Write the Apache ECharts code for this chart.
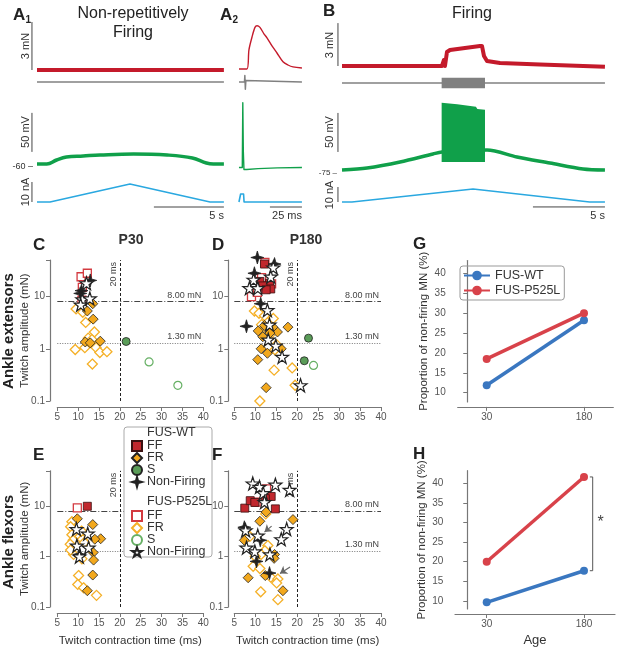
<!DOCTYPE html>
<html><head><meta charset="utf-8">
<script src="https://cdn.jsdelivr.net/npm/echarts@6.0.0/dist/echarts.min.js"></script>
<style>html,body{margin:0;padding:0;background:#fff;}#chart{width:617px;height:648px;}</style>
</head><body><div id="chart"></div>
<script>
// ================= DATA =================
// Panel A1 traces (time in s; force mN; EMG a.u.; Vm mV; injected current nA)
const a1Force = [[0,0],[13.35,0]];
const a1Emg = [[0,0],[13.35,0]];
const a1Vm = [[0,-56.5],[0.7,-56.5],[1.4,-51.4],[2.1,-47.6],[3.3,-46.3],[4.5,-45],[6.9,-43.7],[9.3,-45],[11.1,-48.8],[12.1,-55.3],[12.6,-56.5],[13.35,-56.5]];
const a1Inj = [[0,0],[0.93,0],[6.64,9],[12.36,0],[13.35,0]];
// Panel A2 traces (time in ms)
const a2Force = [[0,0],[6.2,0],[7.8,1.2],[10.2,2.0],[12.5,2.6],[14.1,2.7],[16.4,2.6],[19.5,2.2],[21.9,1.95],[25.8,1.45],[29.7,1.0],[34.4,0.45],[38.3,0.25],[42.2,0.13],[49.2,0.06]];
const a2Emg = [[0,0],[4.3,0],[4.6,0.8],[5.0,-0.9],[5.4,0.2],[5.8,0],[49.2,0]];
const a2Vm = [[0,-61],[2.6,-61],[3.0,22],[3.4,-40],[3.9,-63.5],[6,-63.5],[15,-62.5],[30,-61.5],[49.2,-61]];
const a2Inj = [[0,0],[0.9,0],[1.3,4],[3.6,4],[4.0,0],[49.2,0]];
// Panel B traces (time in s)
const bForce = [[0,0],[6.94,0],[7.08,0.42],[7.15,0],[7.29,0.98],[7.5,1.12],[8.54,1.26],[9.58,1.4],[9.72,1.4],[9.86,0.7],[10.07,0.35],[10.97,0.21],[13.75,0.1],[18.26,-0.05]];
const bEmg = [[0,0],[18.26,0]];
const bEmgBurst = [[6.92,-0.65],[6.92,0.65],[9.93,0.65],[9.93,-0.65]];
const bVm = [[0,-71.2],[1.74,-68.6],[4.03,-60.9],[6.32,-50.6],[6.94,-48.1],[10.07,-45.5],[12.15,-54.5],[14.44,-62.2],[16.74,-69.9],[18.26,-71.2]];
const bVmBurst = [[6.92,-61],[6.92,15],[8.0,13],[9.3,10],[9.4,7],[9.93,6],[9.93,-61]];
const bInj = [[0,0],[0.69,0],[9.1,8.7],[17.2,0],[18.26,0]];
// Scale bars (data units)
const a1ForceBar = [[-0.36,0],[-0.36,3]];
const a1VmBar = [[-0.36,-41],[-0.36,9]];
const a1InjBar = [[-0.36,0],[-0.36,10]];
const a1TimeBar = [[8.35,-2.5],[13.35,-2.5]];
const a2TimeBar = [[24.2,-2.5],[49.2,-2.5]];
const bForceBar = [[-0.28,0],[-0.28,3]];
const bVmBar = [[-0.28,-48],[-0.28,2]];
const bInjBar = [[-0.28,0],[-0.28,10]];
const bTimeBar = [[13.26,-3.3],[18.26,-3.3]];

// Scatter panels: [twitch contraction time (ms), twitch amplitude (mN)]
const C_WT_FF = [];
const C_WT_FR = [[13.5,7.3],[12.2,5.3],[13.6,3.7],[11.7,1.35],[15.3,1.4],[12.9,1.3]];
const C_WT_S = [[21.5,1.38]];
const C_WT_NF = [[12.9,20.4],[10.8,13],[10.5,11.5]];
const C_MUT_FF = [[10.7,24],[12.2,28],[11.0,15],[10.9,8.5]];
const C_MUT_FR = [[9.5,5.8],[11.1,5.0],[11.8,3.2],[13.9,2.1],[12.4,1.6],[13.3,1.5],[9.3,0.97],[11.6,1.05],[14.3,1.05],[15.2,0.85],[16.9,0.88],[13.4,0.51]];
const C_MUT_S = [[27.0,0.56],[33.9,0.2]];
const C_MUT_NF = [[12.0,18],[11.0,8.8],[12.8,9.2],[10.6,7.0]];

const D_WT_FF = [[12.2,42],[11.1,19.5],[13.4,18],[13.7,14],[11.8,16],[12.6,13.5]];
const D_WT_FR = [[17.8,2.6],[10.7,2.2],[11.8,1.7],[15.3,2.1],[14.2,2.6],[12.2,2.8],[11.4,1.0],[12.9,0.82],[16.2,1.0],[10.6,0.62],[12.6,0.18],[13.5,2.0]];
const D_WT_S = [[22.7,1.6],[21.7,0.59]];
const D_WT_NF = [[10.5,56],[14.6,42],[9.8,28],[11.3,7.3],[7.9,2.7]];
const D_MUT_FF = [[12.3,45],[9.1,10],[13.9,17.5],[10.5,12],[11.5,23]];
const D_MUT_FR = [[9.8,5.3],[10.9,4.8],[12.2,4.3],[14.3,3.8],[11.5,2.9],[13.9,2.0],[15.1,1.2],[13.1,1.1],[14.7,0.96],[14.5,0.39],[18.8,0.43],[19.5,0.2],[11.1,0.1],[12.5,2.5]];
const D_MUT_S = [[23.9,0.48]];
const D_MUT_NF = [[14.3,36],[13.7,24],[9.6,21],[8.6,14.5],[10.6,14.5],[12.9,5.5],[13.4,2.9],[13.1,1.5],[14.9,1.15],[16.4,0.7],[20.8,0.2]];

const E_WT_FF = [[12.2,9.9]];
const E_WT_FR = [[9.8,5.6],[13.5,4.3],[15.4,2.25],[14.0,2.2],[13.6,1.2],[13.7,0.85],[13.5,0.43],[12.2,0.21]];
const E_WT_S = [];
const E_WT_NF = [[10.3,1.1]];
const E_MUT_FF = [[9.8,9.2]];
const E_MUT_FR = [[8.5,4.9],[8.2,3.9],[8.5,2.7],[10.4,2.5],[8.8,2.1],[11.0,2.2],[8.1,1.75],[8.9,1.1],[8.2,1.35],[10.9,0.9],[10.8,3.2],[11.5,1.9],[10.1,0.42],[9.9,0.28],[11.3,0.24],[14.4,0.17]];
const E_MUT_S = [];
const E_MUT_NF = [[9.6,3.5],[12.3,2.85],[9.7,1.65],[12.5,1.5],[10.3,1.0]];

const F_WT_FF = [[7.5,9.1],[8.8,12.8],[9.9,11.8],[13.8,15.5],[14.8,8.8],[12.4,14]];
const F_WT_FR = [[11.1,5.0],[19.0,5.4],[12.6,7.6],[7.4,2.1],[14.6,1.1],[14.5,0.92],[8.3,0.38],[12.4,0.42],[16.6,0.21]];
const F_WT_S = [];
const F_WT_NF = [[7.4,3.8],[11.2,2.1],[13.4,0.47],[10.3,0.8]];
const F_MUT_FF = [[12.7,22],[10.2,12]];
const F_MUT_FR = [[12.5,7.0],[8.7,2.5],[13.0,1.65],[12.3,1.3],[11.4,1.1],[9.5,0.64],[11.1,0.58],[13.7,0.39],[15.4,0.36],[15.1,0.3],[11.3,0.2],[15.4,0.14],[10.0,1.0]];
const F_MUT_S = [];
const F_MUT_NF = [[9.4,28],[11.0,24],[14.8,26.5],[18.2,21],[11.9,18],[12.2,12],[17.5,3.5],[16.2,2.2],[7.7,3.3],[10.6,2.6],[7.9,1.5],[9.9,1.26],[13.5,1.1]];
const F_ARROWS = [[[13.9,4.0],[12.2,3.05]],[[18.3,0.62],[15.9,0.46]]];

const FF_THRESHOLD = 8.0;
const S_THRESHOLD = 1.3;
const TIME_THRESHOLD = 20;
const AMP_TICKS = [0.1, 1, 10];
const TIME_TICKS = [5, 40];

// Panels G, H: proportion of non-firing MN (%)
const ages = [30, 180];
const G_WT = [11.9, 28.2];
const G_MUT = [18.5, 30.0];
const H_WT = [9.6, 17.7];
const H_MUT = [20.0, 41.7];
const PCT_TICKS = [10, 15, 20, 25, 30, 35, 40];

// ================= BUILD =================
const FONT = 'Liberation Sans, Arial, Helvetica, sans-serif';
const RED = '#c41a2b', GREEN = '#10a04a', BLUE = '#2aa8e0', GRAY = '#808080', BAR = '#444';
const grids = [], xAxis = [], yAxis = [], series = [];
function addGrid(rect, xa, ya) {
  const i = grids.length;
  grids.push(Object.assign({containLabel:false}, rect));
  xAxis.push(Object.assign({gridIndex:i}, xa));
  yAxis.push(Object.assign({gridIndex:i}, ya));
  return i;
}
const hid = (min, max) => ({type:'value', min, max, show:false, splitLine:{show:false}});
function line(gi, data, color, width, smooth) {
  series.push({type:'line', xAxisIndex:gi, yAxisIndex:gi, data, symbol:'none', smooth: smooth || false,
    lineStyle:{color, width, join:'round'}, silent:true, clip:false, z:3});
}
function poly(gi, pts, color) {
  series.push({type:'custom', xAxisIndex:gi, yAxisIndex:gi, data:[[0,0]], silent:true, clip:false, z:4,
    renderItem: (p, api) => ({type:'polygon', shape:{points: pts.map(q => api.coord(q))}, style:{fill:color}})});
}

// A1
const A1 = {left:9, width:217};
const gA1f = addGrid({...A1, top:22, height:56}, hid(-2,13.5), hid(-0.5,3));
const gA1e = addGrid({...A1, top:74, height:16}, hid(-2,13.5), hid(-1,1));
const gA1v = addGrid({...A1, top:96.5, height:78}, hid(-2,13.5), hid(-70,30));
const gA1i = addGrid({...A1, top:180, height:30}, hid(-2,13.5), hid(-4,11));
line(gA1f, a1Force, RED, 4);
line(gA1e, a1Emg, GRAY, 1.5);
line(gA1v, a1Vm, GREEN, 3.5, 0.4);
line(gA1i, a1Inj, BLUE, 1.6);
line(gA1f, a1ForceBar, BAR, 1);
line(gA1v, a1VmBar, BAR, 1);
line(gA1i, a1InjBar, BAR, 1);
line(gA1i, a1TimeBar, BAR, 1);
// A2
const A2 = {left:236.4, width:66.56};
const gA2f = addGrid({...A2, top:21, height:56}, hid(-2,50), hid(-0.5,3));
const gA2e = addGrid({...A2, top:74, height:16}, hid(-2,50), hid(-1,1));
const gA2v = addGrid({...A2, top:96.5, height:78}, hid(-2,50), hid(-70,30));
const gA2i = addGrid({...A2, top:180, height:30}, hid(-2,50), hid(-4,11));
line(gA2f, a2Force, RED, 1.4, 0.3);
line(gA2e, a2Emg, GRAY, 1.5);
line(gA2v, a2Vm, GREEN, 1.4);
line(gA2i, a2Inj, BLUE, 1.6);
line(gA2i, a2TimeBar, BAR, 1);
// B
const B = {left:327.6, width:280.8};
const gBf = addGrid({...B, top:23.1, height:50.05}, hid(-1,18.5), hid(-0.5,3));
const gBe = addGrid({...B, top:75, height:16}, hid(-1,18.5), hid(-1,1));
const gBv = addGrid({...B, top:95, height:85.8}, hid(-1,18.5), hid(-85,25));
const gBi = addGrid({...B, top:185.5, height:24}, hid(-1,18.5), hid(-5,11));
line(gBf, bForce, RED, 4);
line(gBe, bEmg, GRAY, 1.5);
poly(gBe, bEmgBurst, GRAY);
line(gBv, bVm, GREEN, 3.5, 0.3);
poly(gBv, bVmBurst, GREEN);
line(gBi, bInj, BLUE, 1.6);
line(gBf, bForceBar, BAR, 1);
line(gBv, bVmBar, BAR, 1);
line(gBi, bInjBar, BAR, 1);
line(gBi, bTimeBar, BAR, 1);

// Scatter panels
const STAR5 = 'path://M50,2 L61.8,37.6 L99,37.6 L69,59.6 L80.4,95 L50,73 L19.6,95 L31,59.6 L1,37.6 L38.2,37.6 Z';
const STAR4 = 'path://M50,0 L61,39 L100,50 L61,61 L50,100 L39,61 L0,50 L39,39 Z';
const STY = {
  MUT_FR:{name:'MUT|FR', symbol:'diamond', size:10, fill:'#fff', border:'#f5b027', bw:1.3},
  WT_FR:{name:'WT|FR', symbol:'diamond', size:10, fill:'#f2a81d', border:'#222', bw:0.8},
  MUT_FF:{name:'MUT|FF', symbol:'rect', size:8, fill:'#fff', border:'#d33a40', bw:1.3},
  WT_FF:{name:'WT|FF', symbol:'rect', size:8, fill:'#c1272d', border:'#3a1010', bw:0.8},
  MUT_S:{name:'MUT|S', symbol:'circle', size:8, fill:'#fff', border:'#66b064', bw:1.2},
  WT_S:{name:'WT|S', symbol:'circle', size:8, fill:'#5a9c58', border:'#222', bw:0.8},
  WT_NF:{name:'WT|Non-Firing', symbol:STAR4, size:13, fill:'#222', border:'#222', bw:0.8},
  MUT_NF:{name:'MUT|Non-Firing', symbol:STAR5, size:13, fill:'#fff', border:'#222', bw:1.2}
};
const ORDER = ['MUT_FR','WT_FR','MUT_FF','WT_FF','MUT_S','WT_S','WT_NF','MUT_NF'];
const panels = [
  {rect:{left:57.3, top:260.1, width:146, height:140.9}, yOff:7.3, yName:'Twitch amplitude (mN)', xName:'',
   d:{WT_FF:C_WT_FF, WT_FR:C_WT_FR, WT_S:C_WT_S, WT_NF:C_WT_NF, MUT_FF:C_MUT_FF, MUT_FR:C_MUT_FR, MUT_S:C_MUT_S, MUT_NF:C_MUT_NF}},
  {rect:{left:234.3, top:260.1, width:146.7, height:140.9}, yOff:6, yName:'', xName:'',
   d:{WT_FF:D_WT_FF, WT_FR:D_WT_FR, WT_S:D_WT_S, WT_NF:D_WT_NF, MUT_FF:D_MUT_FF, MUT_FR:D_MUT_FR, MUT_S:D_MUT_S, MUT_NF:D_MUT_NF}},
  {rect:{left:57.3, top:470.8, width:146, height:140.9}, yOff:7.3, yName:'Twitch amplitude (mN)', xName:'Twitch contraction time (ms)',
   d:{WT_FF:E_WT_FF, WT_FR:E_WT_FR, WT_S:E_WT_S, WT_NF:E_WT_NF, MUT_FF:E_MUT_FF, MUT_FR:E_MUT_FR, MUT_S:E_MUT_S, MUT_NF:E_MUT_NF}},
  {rect:{left:234.3, top:470.8, width:146.7, height:140.9}, yOff:6, yName:'', xName:'Twitch contraction time (ms)',
   d:{WT_FF:F_WT_FF, WT_FR:F_WT_FR, WT_S:F_WT_S, WT_NF:F_WT_NF, MUT_FF:F_MUT_FF, MUT_FR:F_MUT_FR, MUT_S:F_MUT_S, MUT_NF:F_MUT_NF}, arrows:F_ARROWS}
];
const axLine = {show:true, lineStyle:{color:'#777', width:1.2}};
const axTick = {show:true, length:4, lineStyle:{color:'#777'}};
const axLabel = {fontSize:10, color:'#555', fontFamily:FONT};
panels.forEach(P => {
  const gi = addGrid(P.rect,
    {type:'value', min:TIME_TICKS[0], max:TIME_TICKS[1], interval:5, offset:6, axisLine:axLine, axisTick:axTick,
     axisLabel:Object.assign({margin:5}, axLabel), splitLine:{show:false},
     name:P.xName, nameLocation:'middle', nameGap:22, nameTextStyle:{fontSize:11.5, color:'#333', fontFamily:FONT}},
    {type:'log', logBase:10, min:AMP_TICKS[0], max:50, offset:P.yOff, axisLine:axLine, axisTick:axTick,
     axisLabel:Object.assign({margin:5, formatter: v => (AMP_TICKS.some(t => Math.abs(t - v) < 1e-6) ? String(v) : '')}, axLabel),
     splitLine:{show:false}, minorTick:{show:false},
     name:P.yName, nameLocation:'middle', nameGap:19, nameMoveOverlap:false, nameTextStyle:{fontSize:11.5, color:'#333', fontFamily:FONT}});
  ORDER.forEach(k => {
    const s = STY[k];
    const ser = {type:'scatter', name:s.name, xAxisIndex:gi, yAxisIndex:gi, data:P.d[k], symbol:s.symbol, symbolSize:s.size,
      itemStyle:{color:s.fill, borderColor:s.border, borderWidth:s.bw, opacity:1}, clip:false, silent:true, z:5};
    if (k === 'WT_FR') {
      ser.markLine = {silent:true, symbol:['none','none'], animation:false,
        label:{fontSize:9, color:'#444', fontFamily:FONT, distance:2},
        data:[
          {yAxis:FF_THRESHOLD, lineStyle:{type:[6,2,1,2], color:'#444', width:1}, label:{position:'insideEndTop', formatter:FF_THRESHOLD.toFixed(2)+' mN'}},
          {yAxis:S_THRESHOLD, lineStyle:{type:[1,1.5], color:'#777', width:1}, label:{position:'insideEndTop', formatter:S_THRESHOLD.toFixed(2)+' mN'}},
          [{coord:[TIME_THRESHOLD, AMP_TICKS[0]], lineStyle:{type:[3,2], color:'#222', width:1}, label:{position:'insideEndTop', formatter:TIME_THRESHOLD+' ms'}},
           {coord:[TIME_THRESHOLD, 50]}]
        ]};
    }
    if (k === 'WT_NF' && P.arrows) {
      ser.markLine = {silent:true, symbol:['none','arrow'], symbolSize:7, animation:false, label:{show:false},
        lineStyle:{color:'#666', width:1.2, type:'solid'},
        itemStyle:{color:'#999'},
        data:P.arrows.map(a => [{coord:a[0]}, {coord:a[1]}])};
    }
    series.push(ser);
  });
});

// G and H
const gG = addGrid({left:457.7, top:260.6, width:155.6, height:141.3},
  {type:'value', min:-14.7, max:225.2, offset:5, axisLine:axLine, axisTick:Object.assign({customValues:ages}, axTick),
   axisLabel:Object.assign({customValues:ages, margin:5}, axLabel), splitLine:{show:false}},
  {type:'value', min:7.7, max:43.2, axisLine:axLine, axisTick:Object.assign({customValues:PCT_TICKS}, axTick),
   axisLabel:Object.assign({customValues:PCT_TICKS, margin:12}, axLabel), splitLine:{show:false},
   name:'Proportion of non-firing MN (%)', nameLocation:'middle', nameGap:28, nameTextStyle:{fontSize:11.5, color:'#333', fontFamily:FONT}});
const gH = addGrid({left:455, top:470.7, width:160, height:141},
  {type:'value', min:-18.9, max:227.8, offset:5, axisLine:axLine, axisTick:Object.assign({customValues:ages}, axTick),
   axisLabel:Object.assign({customValues:ages, margin:5}, axLabel), splitLine:{show:false},
   name:'Age', nameLocation:'middle', nameGap:20, nameTextStyle:{fontSize:13, color:'#333', fontFamily:FONT}},
  {type:'value', min:7.9, max:43.3, offset:6.7, axisLine:axLine, axisTick:Object.assign({customValues:PCT_TICKS}, axTick),
   axisLabel:Object.assign({customValues:PCT_TICKS, margin:5}, axLabel), splitLine:{show:false},
   name:'Proportion of non-firing MN (%)', nameLocation:'middle', nameGap:20, nameTextStyle:{fontSize:11.5, color:'#333', fontFamily:FONT}});
const LBLUE = '#3a77c0', LRED = '#d8424a';
function pctLine(gi, name, vals, color) {
  series.push({type:'line', name, xAxisIndex:gi, yAxisIndex:gi, data:ages.map((a, i) => [a, vals[i]]),
    symbol:'circle', symbolSize:8, lineStyle:{color, width:3.5}, itemStyle:{color}, silent:true, z:5});
}
pctLine(gG, 'FUS-WT', G_WT, LBLUE);
pctLine(gG, 'FUS-P525L', G_MUT, LRED);
pctLine(gH, 'FUS-WT', H_WT, LBLUE);
pctLine(gH, 'FUS-P525L', H_MUT, LRED);
// significance bracket between the 180-day values of panel H
const bx0 = ages[1] + 9, bx1 = ages[1] + 13.4;
series.push({type:'line', xAxisIndex:gH, yAxisIndex:gH, symbol:'none', silent:true, z:4,
  data:[[bx0, H_MUT[1]],[bx1, H_MUT[1]],[bx1, H_WT[1]],[bx0, H_WT[1]]], lineStyle:{color:'#555', width:1}});

// ================= TEXT =================
function T(x, y, text, o) {
  o = o || {};
  return {type:'text', x, y, rotation:o.rot || 0, z:120,
    style:{text, fontSize:o.size || 11, fontWeight:o.bold ? 'bold' : 'normal', fontFamily:FONT, fill:o.color || '#222',
      align:o.align || 'left', verticalAlign:o.va || 'middle', lineHeight:o.lh}};
}
const R = Math.PI / 2;
const graphics = [
  {type:'rect', shape:{x:124, y:427, width:88, height:130, r:3}, style:{fill:'#fff', stroke:'#aaa', lineWidth:1}, z:100},
  T(13, 15, 'A', {size:17, bold:true}), T(25.5, 20, '1', {size:10, bold:true}),
  T(220, 15, 'A', {size:17, bold:true}), T(232.5, 20, '2', {size:10, bold:true}),
  T(133, 23, 'Non-repetitively\nFiring', {size:16, align:'center', lh:19}),
  T(323, 11, 'B', {size:17, bold:true}),
  T(472, 14, 'Firing', {size:16, align:'center'}),
  T(26, 46, '3 mN', {rot:R, align:'center', color:'#333'}),
  T(26, 132, '50 mV', {rot:R, align:'center', color:'#333'}),
  T(26, 192, '10 nA', {rot:R, align:'center', color:'#333'}),
  T(330, 45, '3 mN', {rot:R, align:'center', color:'#333'}),
  T(330, 132, '50 mV', {rot:R, align:'center', color:'#333'}),
  T(330, 195, '10 nA', {rot:R, align:'center', color:'#333'}),
  T(224, 216, '5 s', {align:'right', color:'#333'}),
  T(302, 216, '25 ms', {align:'right', color:'#333'}),
  T(605, 216, '5 s', {align:'right', color:'#333'}),
  T(33, 166.5, '-60 –', {size:9, align:'right', color:'#333'}),
  T(337, 173, '-75 –', {size:8, align:'right', color:'#333'}),
  T(33, 245, 'C', {size:17, bold:true}),
  T(131, 240, 'P30', {size:14, bold:true, align:'center', color:'#333'}),
  T(212, 245, 'D', {size:17, bold:true}),
  T(306, 240, 'P180', {size:14, bold:true, align:'center', color:'#333'}),
  T(33, 455, 'E', {size:17, bold:true}),
  T(212, 455, 'F', {size:17, bold:true}),
  T(413, 244, 'G', {size:17, bold:true}),
  T(413, 454, 'H', {size:17, bold:true}),
  T(9, 331, 'Ankle extensors', {size:15, bold:true, rot:R, align:'center'}),
  T(9, 542, 'Ankle flexors', {size:15, bold:true, rot:R, align:'center'}),
  T(147, 433, 'FUS-WT', {size:12.5, color:'#333'}),
  T(147, 502, 'FUS-P525L', {size:12.5, color:'#333'}),
  T(600.7, 523, '*', {size:16, align:'center', color:'#444'})
];

const legendCommon = {orient:'vertical', left:131, itemWidth:10, itemHeight:10, itemGap:-1, padding:0, z:110,
  textStyle:{fontSize:12.5, lineHeight:11, color:'#333', fontFamily:FONT}, selectedMode:false,
  formatter: n => n.split('|')[1]};
const option = {
  animation:false,
  textStyle:{fontFamily:FONT},
  grid:grids, xAxis, yAxis, series,
  legend:[
    Object.assign({top:439.5, data:['WT|FF','WT|FR','WT|S','WT|Non-Firing']}, legendCommon),
    Object.assign({top:509.5, data:['MUT|FF','MUT|FR','MUT|S','MUT|Non-Firing']}, legendCommon),
    {data:['FUS-WT','FUS-P525L'], orient:'vertical', left:460, top:266, itemWidth:26, itemHeight:12, itemGap:2,
     borderColor:'#999', borderWidth:1, borderRadius:3, padding:[3,4,3,3], selectedMode:false,
     textStyle:{fontSize:12.5, color:'#333', fontFamily:FONT}}
  ],
  graphic:{elements:graphics}
};
const chart = echarts.init(document.getElementById('chart'), null, {renderer:'canvas'});
chart.setOption(option);
</script>
</body></html>
